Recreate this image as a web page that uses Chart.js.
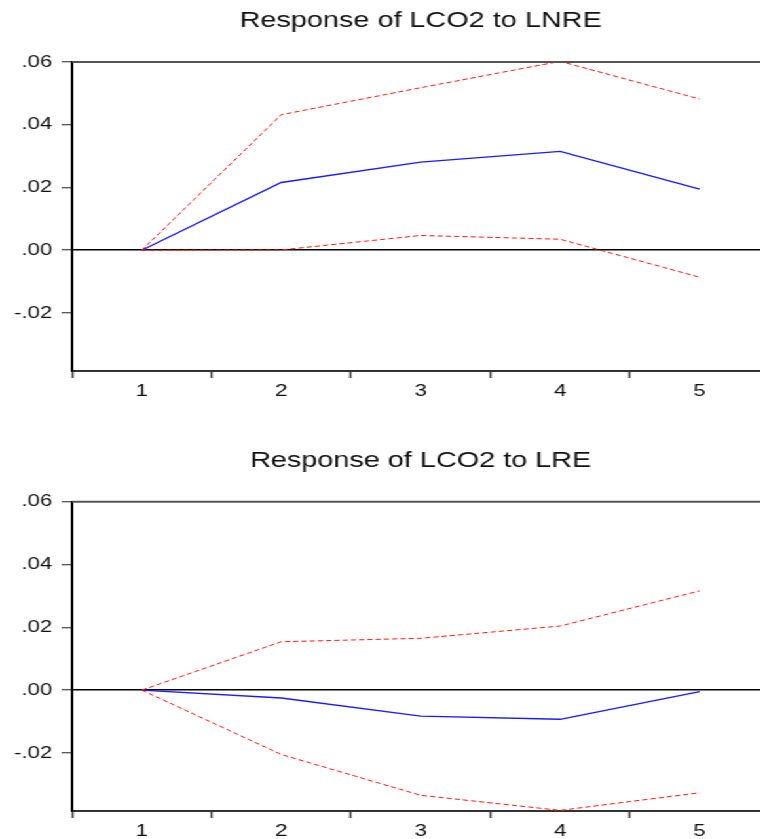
<!DOCTYPE html>
<html>
<head>
<meta charset="utf-8">
<script src="https://cdn.jsdelivr.net/npm/chart.js@4.4.1/dist/chart.umd.min.js"></script>
<style>
  html, body { margin:0; padding:0; overflow:hidden; background:#fff; width:760px; height:839px; }
  .wrap { transform: scaleX(1.31); transform-origin: 0 0; width:588px; }
  .panel { position:relative; width:588px; }
</style>
</head>
<body>
<div class="wrap">
  <div class="panel" style="height:420px"><canvas id="c1"></canvas></div>
  <div class="panel" style="height:419px"><canvas id="c2"></canvas></div>
</div>
<script>
const periods = ['1','2','3','4','5'];
const yTicks = [-0.02, 0, 0.02, 0.04, 0.06];
const yMin = -0.0385, yMax = 0.06;

const lnreResponse = [0, 0.0216, 0.0281, 0.0315, 0.0195];
const lnreUpper    = [0, 0.0432, 0.0518, 0.0602, 0.0482];
const lnreLower    = [0, 0.0001, 0.0047, 0.0035, -0.0086];

const lreResponse  = [0, -0.0025, -0.0083, -0.0093, -0.0005];
const lreUpper     = [0, 0.0154, 0.0165, 0.0204, 0.0316];
const lreLower     = [0, -0.0205, -0.0335, -0.0383, -0.0327];

const FONT = "'Liberation Sans', Arial, sans-serif";

const frame = {
  id: 'frame',
  afterDraw(chart) {
    const a = chart.chartArea, ctx = chart.ctx;
    ctx.save();
    ctx.strokeStyle = '#555';
    ctx.lineWidth = 2;
    ctx.beginPath();
    ctx.moveTo(a.left, a.top);
    ctx.lineTo(a.right + 5, a.top);
    ctx.stroke();
    ctx.restore();
  }
};

function fmt(v) {
  if (Math.abs(v) < 1e-9) return '.00';
  return (v < 0 ? '-' : '') + Math.abs(v).toFixed(2).replace(/^0/, '');
}

function makeChart(id, title, resp, up, low, titlePad, xHeight) {
  return new Chart(document.getElementById(id), {
    type: 'line',
    data: {
      labels: periods,
      datasets: [
        { data: up, borderColor: '#ff1a1a', borderWidth: 1, borderDash: [4, 2.3], pointRadius: 0, tension: 0, fill: false },
        { data: low, borderColor: '#ff1a1a', borderWidth: 1, borderDash: [4, 2.3], pointRadius: 0, tension: 0, fill: false },
        { data: resp, borderColor: '#1a1aff', borderWidth: 1.4, pointRadius: 0, tension: 0, fill: false }
      ]
    },
    options: {
      responsive: true,
      maintainAspectRatio: false,
      animation: false,
      layout: { padding: { left: 10, right: 0, top: 0, bottom: 0 } },
      plugins: {
        legend: { display: false },
        tooltip: { enabled: false },
        title: {
          display: true, text: title, fullSize: false, color: '#111',
          font: { family: FONT, size: 22, weight: 'normal' },
          padding: titlePad
        }
      },
      scales: {
        x: {
          type: 'category',
          offset: true,
          grid: { offset: true, drawOnChartArea: false, drawTicks: true, tickLength: 7, tickColor: '#333', tickWidth: 1.5 },
          border: { display: true, color: '#333', width: 2 },
          ticks: { color: '#111', font: { family: FONT, size: 17 }, padding: 3, maxRotation: 0, autoSkip: false },
          afterFit(s) { s.height = xHeight; }
        },
        y: {
          type: 'linear',
          min: yMin, max: yMax,
          afterBuildTicks(s) { s.ticks = yTicks.map(v => ({ value: v })); },
          afterFit(s) { s.width = 45; },
          grid: {
            color: c => (c.tick && Math.abs(c.tick.value) < 1e-9) ? '#000' : 'rgba(0,0,0,0)',
            lineWidth: 1.5,
            tickColor: '#222', tickLength: 8, tickWidth: 1
          },
          border: { display: true, color: '#000', width: 2 },
          ticks: { color: '#111', font: { family: FONT, size: 17 }, padding: 7, callback: v => fmt(v) }
        }
      }
    },
    plugins: [frame]
  });
}

makeChart('c1', 'Response of LCO2 to LNRE', lnreResponse, lnreUpper, lnreLower, { top: 8, bottom: 27.6 }, 49);
makeChart('c2', 'Response of LCO2 to LRE', lreResponse, lreUpper, lreLower, { top: 28, bottom: 27.3 }, 28);
</script>
</body>
</html>
